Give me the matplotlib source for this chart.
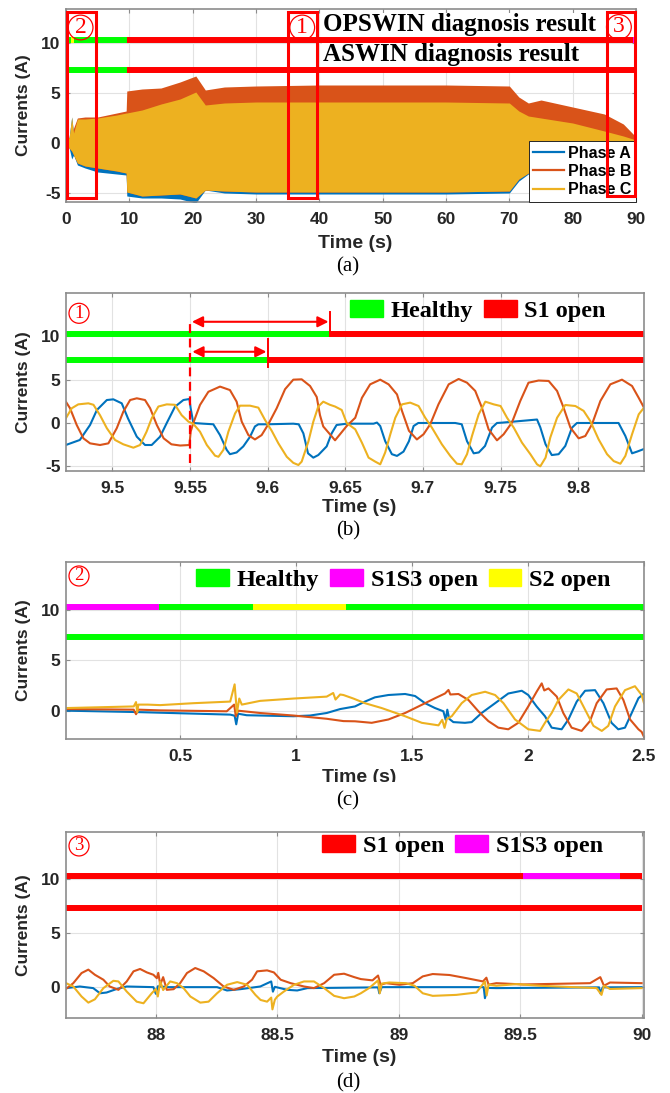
import matplotlib
matplotlib.use('Agg')
import matplotlib.pyplot as plt
from matplotlib.lines import Line2D
from matplotlib.patches import Patch, Rectangle

plt.rcParams['font.family'] = ['Liberation Sans', 'DejaVu Sans']
plt.rcParams['font.weight'] = 'bold'
SERIF = ['Liberation Serif', 'DejaVu Serif']

BLUE = '#0072BD'
ORANGE = '#D95319'
YELLOW = '#EDB120'
GREEN = '#00FF00'
RED = '#FF0000'
MAGENTA = '#FF00FF'
BYELLOW = '#FFFF00'
SPINE = '#8c8c8c'

# ---------------- data ----------------
phase_names = ['Phase A', 'Phase B', 'Phase C']

# diagnosis result bars (OPSWIN upper row, ASWIN lower row)
ops_start = [0.0, 0.41, 0.815, 1.216, 9.64, 89.51, 89.91]
ops_end = [0.41, 0.815, 1.216, 9.64, 89.51, 89.91, 90.0]
ops_state = ['S1S3 open', 'Healthy', 'S2 open', 'Healthy', 'S1 open', 'S1S3 open', 'S1 open']
asw_start = [0.0, 9.6]
asw_end = [9.6, 90.0]
asw_state = ['Healthy', 'S1 open']
state_color = {'Healthy': GREEN, 'S1 open': RED, 'S1S3 open': MAGENTA, 'S2 open': BYELLOW}

# (a) envelope of the whole 90 s record
a_t = [0, 0.5, 0.9, 1.2, 1.8, 3, 5, 8, 9.5, 9.6, 12, 15, 18, 20.5, 22, 25, 30, 40, 50,
       60, 70, 71.5, 73, 75, 80, 85, 88, 90]
a_c_top = [0, 0.6, 2.6, 1.0, 2.4, 2.4, 2.5, 2.8, 3.0, 3.0, 3.3, 3.9, 4.4, 5.1, 3.8, 4.0, 4.1,
           4.1, 4.1, 4.1, 4.0, 3.2, 2.7, 2.5, 2.0, 1.2, 0.7, 0.3]
a_c_low = [0, -0.5, -0.8, -1.2, -2.0, -2.3, -2.5, -2.8, -3.0, -4.9, -5.3, -5.2, -5.1, -5.5,
           -4.7, -4.8, -4.9, -4.9, -4.9, -4.9, -4.8, -3.6, -3.0, -2.8, -2.3, -1.6, -1.0, -0.4]
a_b_top = [0.2, 0.5, 1.0, 1.5, 2.5, 2.6, 2.6, 3.0, 3.2, 5.2, 5.4, 5.5, 6.1, 6.7, 5.3, 5.6, 5.7,
           5.8, 5.8, 5.8, 5.7, 4.6, 4.0, 4.3, 3.6, 2.9, 1.9, 0.6]
a_a_low = [0, -0.5, -1.6, -1.2, -2.2, -2.5, -2.9, -3.1, -3.2, -5.3, -5.5, -5.5, -5.6, -6.0,
           -4.7, -5.0, -5.1, -5.1, -5.1, -5.1, -5.0, -3.8, -3.1, -2.9, -2.4, -1.7, -1.1, -0.5]

# (b) zoom around the S1 fault
b_a = [(9.470, -2.54), (9.479, -1.96), (9.4856, -0.23), (9.490, 1.5), (9.4964, 2.65),
       (9.5006, 2.73), (9.506, 2.27), (9.510, 0.54), (9.5157, -1.58), (9.521, -2.54),
       (9.5253, -2.54), (9.5307, -1.58), (9.535, 0.0), (9.5403, 1.88), (9.5457, 2.65),
       (9.5496, 2.77), (9.5504, 1.7), (9.5521, 0.0), (9.5586, -0.08), (9.565, -0.15),
       (9.5693, -1.4), (9.5736, -3.1), (9.5757, -3.6), (9.580, -3.4), (9.5843, -2.7),
       (9.5886, -1.6), (9.5918, -0.4), (9.594, -0.15), (9.5994, -0.15), (9.6165, -0.08),
       (9.620, -0.15), (9.623, -1.2), (9.626, -3.5), (9.6294, -4.0), (9.6326, -3.7),
       (9.638, -2.7), (9.6412, -1.2), (9.6444, -0.23), (9.6509, -0.08), (9.6682, -0.08),
       (9.6704, 0.05), (9.6725, -0.35), (9.6757, -2.1), (9.680, -3.6), (9.6833, -3.8),
       (9.6875, -3.3), (9.691, -2.1), (9.694, -0.35), (9.697, 0.0), (9.7208, 0.0),
       (9.725, -0.15), (9.7284, -2.1), (9.7327, -3.5), (9.736, -3.4), (9.740, -2.65),
       (9.7445, -0.54), (9.7477, 0.0), (9.751, 0.04), (9.7735, 0.4), (9.7756, -0.5),
       (9.779, -2.46), (9.783, -3.7), (9.7874, -3.6), (9.7917, -2.65), (9.796, -0.54),
       (9.7992, 0.0), (9.826, 0.0), (9.8304, -1.5), (9.8347, -3.5), (9.838, -3.3),
       (9.8424, -3.0)]
b_b = [(9.470, 2.46), (9.4727, 1.7), (9.477, -0.23), (9.4813, -1.77), (9.4856, -2.35),
       (9.492, -2.54), (9.4974, -2.35), (9.5028, -0.6), (9.507, 1.3), (9.5114, 2.65),
       (9.5157, 2.85), (9.521, 2.65), (9.5243, 1.7), (9.5286, -0.23), (9.533, -1.77),
       (9.538, -2.46), (9.5436, -2.6), (9.5496, -2.54), (9.5504, -1.0), (9.5521, 0.0),
       (9.5564, 2.08), (9.5618, 3.6), (9.5693, 4.2), (9.5757, 3.8), (9.580, 2.46),
       (9.5833, 0.15), (9.5876, -1.4), (9.5918, -1.9), (9.5961, -1.4), (9.6004, -0.15),
       (9.6058, 1.7), (9.6112, 3.9), (9.6165, 5.0), (9.6219, 5.04), (9.6273, 4.27),
       (9.6316, 3.0), (9.6337, 0.9), (9.6358, -0.4), (9.6401, -1.3), (9.6434, -2.0),
       (9.6466, -1.3), (9.6509, -0.35), (9.6564, 0.6), (9.6607, 2.9), (9.666, 4.46),
       (9.6725, 5.0), (9.6779, 4.46), (9.6833, 3.3), (9.6865, 1.4), (9.691, -0.9),
       (9.6961, -1.9), (9.7004, -1.3), (9.7047, -0.15), (9.710, 2.15), (9.7166, 4.46),
       (9.723, 5.08), (9.7284, 4.65), (9.7337, 3.7), (9.738, 1.77), (9.7423, -0.73),
       (9.7477, -2.0), (9.752, -1.3), (9.7573, 0.04), (9.7627, 2.54), (9.768, 4.65),
       (9.7745, 4.9), (9.781, 4.85), (9.7864, 3.7), (9.7906, 1.77), (9.795, -0.54),
       (9.8003, -1.77), (9.8046, -1.5), (9.8089, -0.15), (9.8143, 2.54), (9.8207, 4.46),
       (9.8282, 5.0), (9.8347, 4.27), (9.839, 2.9), (9.8424, 1.77)]
b_c = [(9.470, 0.54), (9.4738, 1.7), (9.478, 2.15), (9.4845, 2.27), (9.4878, 2.1),
       (9.492, 0.9), (9.4964, -0.6), (9.5017, -1.96), (9.507, -2.46), (9.5135, -2.85),
       (9.5178, -2.54), (9.522, -1.0), (9.5253, 0.54), (9.5296, 1.9), (9.535, 2.15),
       (9.5403, 2.1), (9.5446, 0.9), (9.549, 0.15), (9.5521, -0.1), (9.5564, -1.0),
       (9.5608, -2.54), (9.5661, -3.77), (9.5683, -3.9), (9.5715, -3.1), (9.5747, -1.0),
       (9.579, 1.1), (9.5822, 2.0), (9.5886, 2.0), (9.594, 1.77), (9.5983, 0.35),
       (9.6026, -0.9), (9.6069, -2.35), (9.6123, -3.9), (9.6165, -4.6), (9.6198, -4.85),
       (9.6219, -4.46), (9.6262, -2.15), (9.6294, 0.15), (9.6326, 1.9), (9.6358, 2.46),
       (9.6401, 2.1), (9.6434, 1.9), (9.6477, 1.5), (9.6509, 0.0), (9.6564, -0.73),
       (9.6607, -2.27), (9.665, -4.0), (9.6693, -4.46), (9.6725, -4.77), (9.6757, -3.4),
       (9.679, -1.3), (9.6822, 0.6), (9.6865, 2.15), (9.6918, 2.35), (9.6972, 1.96),
       (9.7015, 0.6), (9.7058, -0.54), (9.7122, -2.46), (9.7176, -3.8), (9.7219, -4.7),
       (9.725, -4.77), (9.7284, -3.6), (9.7316, -1.5), (9.7359, 1.0), (9.7402, 2.46),
       (9.7456, 2.15), (9.750, 1.96), (9.7542, 0.6), (9.7585, -0.54), (9.7638, -2.27),
       (9.7692, -3.6), (9.7735, -4.77), (9.7756, -5.0), (9.779, -4.0), (9.782, -1.7),
       (9.7864, 0.6), (9.7917, 2.08), (9.7982, 1.96), (9.8035, 1.4), (9.8078, 0.23),
       (9.8132, -1.9), (9.8186, -3.6), (9.8229, -4.4), (9.8272, -4.7), (9.8304, -3.8),
       (9.8347, -1.3), (9.839, 1.0), (9.8424, 1.77)]

# (c) start-up, first 2.5 s
c_a = [(0.01, 0.0), (0.30, -0.13), (0.557, -0.29), (0.716, -0.39), (0.735, -0.5),
       (0.742, -1.35), (0.75, -0.3), (0.787, -0.45), (0.989, -0.55), (1.06, -0.48),
       (1.132, -0.23), (1.19, 0.16), (1.254, 0.42), (1.297, 0.9), (1.34, 1.32),
       (1.398, 1.55), (1.47, 1.65), (1.513, 1.45), (1.556, 0.74), (1.599, 0.26),
       (1.635, -0.06), (1.645, -0.9), (1.652, 0.1), (1.66, -0.8), (1.678, -1.13),
       (1.728, -1.2), (1.757, -1.13), (1.80, -0.23), (1.858, 0.74), (1.915, 1.7),
       (1.973, 1.97), (2.001, 1.55), (2.037, 0.42), (2.073, -0.55), (2.102, -1.68),
       (2.145, -1.84), (2.174, -0.87), (2.21, 0.9), (2.246, 1.97), (2.289, 2.03),
       (2.325, 0.74), (2.36, -1.2), (2.389, -1.84), (2.418, -1.68), (2.447, -0.23),
       (2.476, 1.23), (2.50, 1.7)]
c_b = [(0.01, 0.16), (0.30, 0.1), (0.31, -0.35), (0.32, 0.1), (0.414, 0.03), (0.701, -0.06),
       (0.733, 0.6), (0.74, -0.55), (0.75, 0.0), (0.845, -0.23), (0.989, -0.48),
       (1.132, -0.8), (1.204, -1.03), (1.254, -1.05), (1.326, -1.2), (1.398, -0.87),
       (1.47, -0.23), (1.542, 0.58), (1.599, 1.23), (1.642, 1.7), (1.657, 2.05),
       (1.665, 1.6), (1.70, 1.65), (1.743, 1.06), (1.786, -0.06), (1.829, -1.03),
       (1.872, -1.68), (1.915, -1.84), (1.958, -1.2), (2.001, 0.42), (2.037, 1.87),
       (2.059, 2.7), (2.07, 2.0), (2.088, 2.2), (2.124, 1.39), (2.152, -0.23),
       (2.188, -1.68), (2.231, -2.0), (2.267, -1.03), (2.296, 0.74), (2.339, 2.1),
       (2.382, 2.2), (2.411, 1.06), (2.44, -0.87), (2.476, -1.84), (2.49, -2.1),
       (2.50, -2.6)]
c_c = [(0.01, 0.26), (0.30, 0.42), (0.31, 0.85), (0.315, -0.15), (0.32, 0.6), (0.36, 0.6),
       (0.414, 0.55), (0.557, 0.74), (0.716, 0.9), (0.735, 2.6), (0.745, -0.2),
       (0.755, 1.2), (0.766, 0.6), (0.845, 0.97), (0.989, 1.2), (1.132, 1.39),
       (1.16, 1.75), (1.17, 1.1), (1.19, 1.6), (1.204, 1.55), (1.247, 1.2), (1.297, 0.74),
       (1.369, 0.26), (1.47, -0.55), (1.542, -1.2), (1.614, -1.45), (1.63, -0.9),
       (1.64, -1.7), (1.65, -0.8), (1.671, -0.55), (1.714, 0.74), (1.757, 1.55),
       (1.815, 1.87), (1.858, 1.55), (1.894, 0.74), (1.944, -0.87), (2.001, -1.84),
       (2.052, -2.0), (2.065, -1.5), (2.073, -1.2), (2.102, -0.23), (2.131, 1.06),
       (2.174, 2.1), (2.21, 1.7), (2.246, 0.1), (2.282, -1.5), (2.318, -2.0),
       (2.346, -1.5), (2.375, 0.42), (2.418, 2.03), (2.461, 2.42), (2.49, 1.55),
       (2.50, 0.74)]

# (d) end of the record
d_a = [(87.63, -0.12), (87.687, 0.03), (87.742, -0.12), (87.77, -0.6), (87.797, -0.53),
       (87.839, -0.2), (87.88, 0.03), (87.99, -0.03), (88.0, -0.65), (88.008, 0.05),
       (88.05, -0.03), (88.252, -0.03), (88.293, -0.34), (88.348, -0.22), (88.43, 0.03),
       (88.475, 0.5), (88.482, -0.45), (88.49, 0.0), (88.541, -0.28), (88.582, -0.34),
       (88.624, -0.12), (88.915, -0.05), (88.92, -0.6), (88.93, -0.03), (89.35, -0.03),
       (89.355, -1.06), (89.365, -0.1), (89.402, -0.12), (89.825, -0.05), (89.83, -0.6),
       (89.84, -0.05), (90.0, -0.03)]
d_b = [(87.63, -0.2), (87.66, 0.34), (87.694, 1.28), (87.722, 1.6), (87.749, 1.12),
       (87.784, 0.66), (87.81, 0.03), (87.846, -0.28), (87.88, 0.5), (87.908, 1.44),
       (87.935, 1.66), (87.963, 1.34), (87.99, 1.12), (88.004, 0.8), (88.01, 1.3),
       (88.018, 0.2), (88.03, 0.9), (88.045, -0.28), (88.073, -0.22), (88.10, 0.34),
       (88.128, 1.28), (88.162, 1.75), (88.197, 1.44), (88.238, 0.81), (88.279, 0.03),
       (88.321, -0.28), (88.362, 0.03), (88.396, 0.66), (88.417, 1.44), (88.458, 1.53),
       (88.486, 1.34), (88.514, 0.66), (88.555, 0.34), (88.61, 0.03), (88.651, -0.12),
       (88.693, 0.34), (88.734, 1.12), (88.775, 1.22), (88.817, 0.9), (88.844, 0.72),
       (88.892, 0.6), (88.915, 1.05), (88.925, 0.2), (88.948, 0.34), (89.003, 0.19),
       (89.058, 0.34), (89.099, 0.97), (89.14, 1.19), (89.209, 1.1), (89.278, 0.81),
       (89.347, 0.5), (89.361, 0.85), (89.37, 0.2), (89.402, 0.34), (89.512, 0.22),
       (89.65, 0.28), (89.788, 0.34), (89.83, 0.9), (89.845, 0.1), (89.87, 0.4),
       (90.0, 0.34)]
d_c = [(87.63, 0.34), (87.66, 0.03), (87.694, -0.9), (87.722, -1.47), (87.749, -1.16),
       (87.784, -0.12), (87.825, 0.56), (87.846, 0.5), (87.88, -0.44), (87.921, -1.38),
       (87.949, -1.53), (87.983, -0.6), (88.0, -0.2), (88.008, -0.9), (88.018, 0.5),
       (88.03, -0.3), (88.059, 0.5), (88.087, 0.34), (88.114, -0.12), (88.142, -0.9),
       (88.183, -1.47), (88.217, -1.38), (88.252, -0.6), (88.293, 0.19), (88.335, 0.44),
       (88.376, 0.19), (88.41, -0.75), (88.431, -1.22), (88.458, -1.38), (88.475, -1.0),
       (88.48, -2.1), (88.49, -1.2), (88.50, -0.9), (88.527, -0.44), (88.569, 0.19),
       (88.61, 0.5), (88.651, 0.5), (88.693, -0.12), (88.734, -0.84), (88.775, -1.06),
       (88.817, -0.9), (88.844, -0.6), (88.879, -0.1), (88.915, 0.6), (88.922, -0.6),
       (88.93, 0.3), (88.961, 0.4), (89.03, 0.34), (89.065, 0.1), (89.099, -0.6),
       (89.14, -0.84), (89.237, -0.75), (89.32, -0.53), (89.355, 0.5), (89.362, -0.8),
       (89.37, 0.2), (89.402, 0.1), (89.485, 0.25), (89.581, 0.1), (89.719, -0.03),
       (89.815, -0.12), (89.835, -0.75), (89.845, 0.1), (89.87, -0.2), (90.0, -0.12)]

# axis ticks
a_xticks = [0, 10, 20, 30, 40, 50, 60, 70, 80, 90]
a_xlabels = ['0', '10', '20', '30', '40', '50', '60', '70', '80', '90']
b_xticks = [9.5, 9.55, 9.6, 9.65, 9.7, 9.75, 9.8]
b_xlabels = ['9.5', '9.55', '9.6', '9.65', '9.7', '9.75', '9.8']
c_xticks = [0.5, 1, 1.5, 2, 2.5]
c_xlabels = ['0.5', '1', '1.5', '2', '2.5']
d_xticks = [88, 88.5, 89, 89.5, 90]
d_xlabels = ['88', '88.5', '89', '89.5', '90']

# ---------------- figure ----------------
W, H = 670, 1093
fig = plt.figure(figsize=(W / 100, H / 100), dpi=100)


def px_axes(left, top, right, bottom):
    return fig.add_axes([left / W, 1 - bottom / H, (right - left) / W, (bottom - top) / H])


def style(ax, xlim, ylim, xticks, xlabels, yticks):
    ax.set_xlim(xlim)
    ax.set_ylim(ylim)
    ax.set_xticks(xticks)
    ax.set_xticklabels(xlabels)
    ax.set_yticks(yticks)
    ax.set_yticklabels([str(v) for v in yticks])
    ax.grid(True, color='#e2e2e2', lw=0.8)
    ax.set_axisbelow(True)
    ax.tick_params(direction='in', length=3, width=0.8, color=SPINE, labelsize=12.5,
                   labelcolor='#262626', top=True, right=True)
    ax.tick_params(axis='x', pad=7)
    ax.tick_params(axis='y', pad=4)
    for s in ax.spines.values():
        s.set_color(SPINE)
        s.set_linewidth(1.2)


def draw_bars(ax):
    for s, e, st in zip(ops_start, ops_end, ops_state):
        ax.plot([s, e], [10.3, 10.3], color=state_color[st], lw=4.3, solid_capstyle='butt')
    for s, e, st in zip(asw_start, asw_end, asw_state):
        ax.plot([s, e], [7.3, 7.3], color=state_color[st], lw=4.3, solid_capstyle='butt')


def draw_phases(ax, series):
    for pts, col in zip(series, [BLUE, ORANGE, YELLOW]):
        ax.plot([p[0] for p in pts], [p[1] for p in pts], color=col, lw=1.5)


def circled(ax, x, y, num, size, transform=None):
    ax.text(x, y, num, color=RED, family=SERIF, weight='normal', fontsize=size,
            ha='center', va='center', transform=transform or ax.transData, zorder=7,
            bbox=dict(boxstyle='circle,pad=0.08', fc='none', ec=RED, lw=0.9))


def state_legend(ax, states, x0, y0):
    handles = [Patch(facecolor=state_color[s], edgecolor=state_color[s]) for s in states]
    ax.legend(handles, states, loc='center left', bbox_to_anchor=(x0, y0), ncol=len(states),
              frameon=False, borderpad=0, borderaxespad=0, handlelength=1.35,
              handleheight=0.72, handletextpad=0.32, columnspacing=0.45,
              prop={'family': SERIF, 'weight': 'bold', 'size': 17.5})


def labels(ax_top, ax_bottom, cx, ty, cap, cy):
    fig.text(24 / W, 1 - (ax_top + ax_bottom) / 2 / H, 'Currents (A)', rotation=90,
             ha='center', va='center', fontsize=12.5, color='#262626')
    fig.text(cx / W, 1 - ty / H, 'Time (s)', ha='center', va='center', fontsize=14,
             color='#262626')
    fig.text(348 / W, 1 - cy / H, cap, ha='center', va='center', family=SERIF,
             weight='normal', fontsize=15, color='black')


# (a)
ax = px_axes(66, 9, 636, 202)
style(ax, (0, 90), (-5.9, 13.4), a_xticks, a_xlabels, [-5, 0, 5, 10])
ax.fill_between(a_t, a_a_low, a_c_top, color=BLUE, lw=0)
ax.fill_between(a_t, a_c_low, a_b_top, color=ORANGE, lw=0)
ax.fill_between(a_t, a_c_low, a_c_top, color=YELLOW, lw=0)
draw_bars(ax)
for txt, yy in [('OPSWIN diagnosis result', 11.8), ('ASWIN diagnosis result', 8.8)]:
    ax.text(40.6, yy, txt, family=SERIF, weight='bold', fontsize=18, ha='left', va='center',
            zorder=4, bbox=dict(fc='white', ec='none', pad=0.5))
leg_handles = [Line2D([], [], color=c, lw=1.6) for c in [BLUE, ORANGE, YELLOW]]
leg = ax.legend(leg_handles, phase_names, loc='lower right', bbox_to_anchor=(1, 0),
                borderaxespad=0, fancybox=False, framealpha=1, edgecolor='#262626',
                fontsize=11.5, handlelength=1.9, handletextpad=0.25, labelspacing=0.2,
                borderpad=0.3)
leg.get_frame().set_linewidth(0.7)
for (x0, y0, x1, y1) in [(0.1, -5.5, 4.7, 13.1), (35.0, -5.5, 39.7, 13.1),
                         (85.4, -5.3, 89.8, 13.1)]:
    ax.add_patch(Rectangle((x0, y0), x1 - x0, y1 - y0, fill=False, ec=RED, lw=2.2,
                           zorder=6, clip_on=False))
circled(ax, 2.3, 11.55, '2', 17)
circled(ax, 37.3, 11.55, '1', 17)
circled(ax, 87.3, 11.6, '3', 17)
labels(9, 202, 355, 243, '(a)', 267)

# (b)
ax = px_axes(66, 293, 644, 471)
style(ax, (9.4701, 9.8424), (-5.54, 15.0), b_xticks, b_xlabels, [-5, 0, 5, 10])
draw_phases(ax, [b_a, b_b, b_c])
draw_bars(ax)
ax.plot([9.55, 9.55], [-4.6, 12.0], color=RED, lw=1.6, ls=(0, (4, 2.5)))
ax.plot([9.64, 9.64], [10.0, 12.8], color=RED, lw=1.4)
ax.plot([9.6, 9.6], [6.5, 9.7], color=RED, lw=1.4)
for x0, x1, yy in [(9.5512, 9.6392, 11.68), (9.5515, 9.5992, 8.22)]:
    ax.annotate('', xy=(x1, yy), xytext=(x0, yy),
                arrowprops=dict(arrowstyle='<|-|>', color=RED, lw=1.5, mutation_scale=16,
                                shrinkA=0, shrinkB=0))
circled(ax, 0.0225, 0.886, '1', 13.5, ax.transAxes)
state_legend(ax, ['Healthy', 'S1 open'], 0.491, 0.899)
labels(293, 471, 359, 507, '(b)', 531)

# (c)
ax = px_axes(66, 562, 644, 739)
style(ax, (0.008, 2.5), (-2.8, 14.7), c_xticks, c_xlabels, [0, 5, 10])
draw_phases(ax, [c_a, c_b, c_c])
draw_bars(ax)
circled(ax, 0.0225, 0.921, '2', 13.5, ax.transAxes)
state_legend(ax, ['Healthy', 'S1S3 open', 'S2 open'], 0.225, 0.898)
labels(562, 739, 359, 777, '(c)', 801)
fig.add_artist(Rectangle((0, 1 - 790 / H), 1, 8 / H, transform=fig.transFigure,
                         fc='white', ec='none', zorder=10))

# (d)
ax = px_axes(66, 832, 644, 1018)
style(ax, (87.63, 90.01), (-2.9, 14.4), d_xticks, d_xlabels, [0, 5, 10])
draw_phases(ax, [d_a, d_b, d_c])
draw_bars(ax)
circled(ax, 0.0225, 0.925, '3', 13.5, ax.transAxes)
state_legend(ax, ['S1 open', 'S1S3 open'], 0.443, 0.925)
labels(832, 1018, 359, 1057, '(d)', 1083)

fig.savefig('out.png', dpi=100)
